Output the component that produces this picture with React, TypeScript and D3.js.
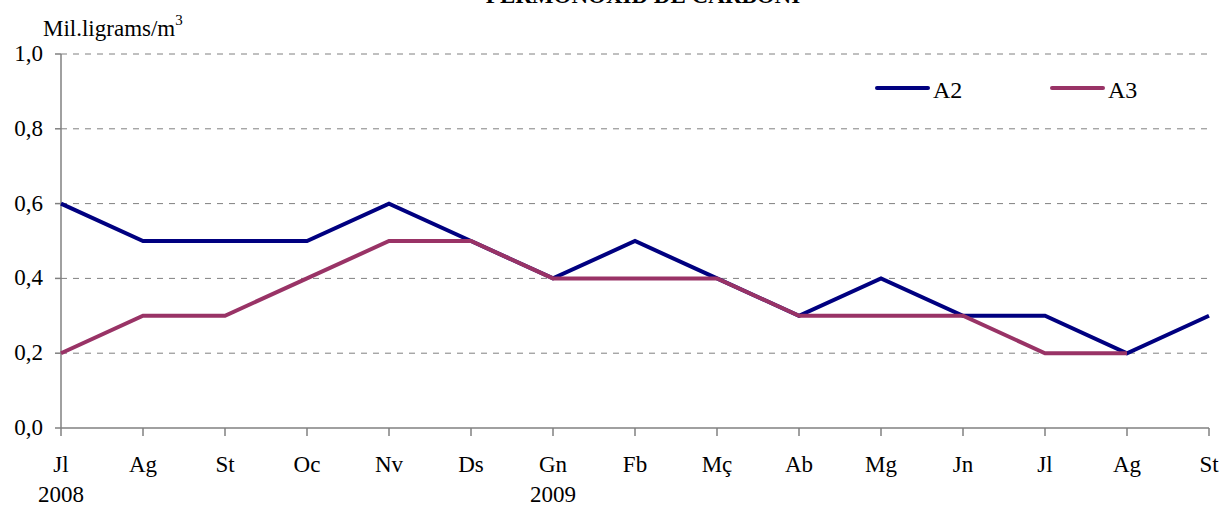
import React from "react";
import * as d3 from "d3";

const categories = ["Jl", "Ag", "St", "Oc", "Nv", "Ds", "Gn", "Fb", "Mç", "Ab", "Mg", "Jn", "Jl", "Ag", "St"];
const years = [{ idx: 0, label: "2008" }, { idx: 6, label: "2009" }];
const seriesA2 = [0.6, 0.5, 0.5, 0.5, 0.6, 0.5, 0.4, 0.5, 0.4, 0.3, 0.4, 0.3, 0.3, 0.2, 0.3];
const seriesA3: (number | null)[] = [0.2, 0.3, 0.3, 0.4, 0.5, 0.5, 0.4, 0.4, 0.4, 0.3, 0.3, 0.3, 0.2, 0.2, null];
const yTicks = [0, 0.2, 0.4, 0.6, 0.8, 1.0];
const series = [
  { name: "A2", values: seriesA2 as (number | null)[], color: "#000080" },
  { name: "A3", values: seriesA3, color: "#993366" },
];

export default function App() {
  const W = 1223, H = 506;
  const x0 = 61, x1 = 1209, y0 = 428, y1 = 54;
  const x = d3.scalePoint<number>().domain(categories.map((_, i) => i)).range([x0, x1]);
  const y = d3.scaleLinear().domain([0, 1]).range([y0, y1]);
  const line = d3.line<number | null>()
    .defined((d) => d !== null)
    .x((_, i) => x(i)!)
    .y((d) => y(d as number));
  const ts: React.CSSProperties = { fontFamily: "'Liberation Serif', 'Times New Roman', serif", fontSize: 23 };
  const fmt = (v: number) => v.toFixed(1).replace(".", ",");
  return (
    <div style={{ position: "absolute", left: 0, top: 0 }}>
      <svg width={W} height={H} style={{ display: "block" }}>
        <rect width={W} height={H} fill="#fff" />
        <text x={643} y={3} textAnchor="middle" style={{ ...ts, fontWeight: "bold" }}>PERMONOXID DE CARBONI</text>
        <text x={43} y={36} style={ts}>Mil.ligrams/m<tspan dy={-11} style={{ fontSize: 15 }}>3</tspan></text>
        {yTicks.filter((t) => t > 0).map((t) => (
          <line key={t} x1={x0} x2={x1} y1={y(t)} y2={y(t)} stroke="#808080" strokeDasharray="6,6" strokeWidth={1} />
        ))}
        <line x1={x0} x2={x0} y1={y1} y2={y0} stroke="#808080" strokeWidth={1.5} />
        <line x1={x0} x2={x1} y1={y0} y2={y0} stroke="#808080" strokeWidth={1.5} />
        {yTicks.map((t) => (
          <g key={t}>
            <line x1={x0 - 6} x2={x0} y1={y(t)} y2={y(t)} stroke="#808080" strokeWidth={1.5} />
            <text x={43} y={y(t) + 7} textAnchor="end" style={ts}>{fmt(t)}</text>
          </g>
        ))}
        {categories.map((c, i) => (
          <g key={i}>
            <line x1={x(i)!} x2={x(i)!} y1={y0} y2={y0 + 8} stroke="#808080" strokeWidth={1.5} />
            <text x={x(i)!} y={472} textAnchor="middle" style={ts}>{c}</text>
          </g>
        ))}
        {years.map((yr) => (
          <text key={yr.label} x={x(yr.idx)!} y={502} textAnchor="middle" style={ts}>{yr.label}</text>
        ))}
        {series.map((s) => (
          <path key={s.name} d={line(s.values) || ""} fill="none" stroke={s.color} strokeWidth={4} strokeLinejoin="miter" />
        ))}
        {series.map((s, i) => {
          const lx = 877 + i * 175;
          return (
            <g key={s.name}>
              <line x1={lx} x2={lx + 51} y1={88} y2={88} stroke={s.color} strokeWidth={4} strokeLinecap="round" />
              <text x={lx + 56} y={98} style={{ ...ts, fontSize: 24 }}>{s.name}</text>
            </g>
          );
        })}
      </svg>
    </div>
  );
}
